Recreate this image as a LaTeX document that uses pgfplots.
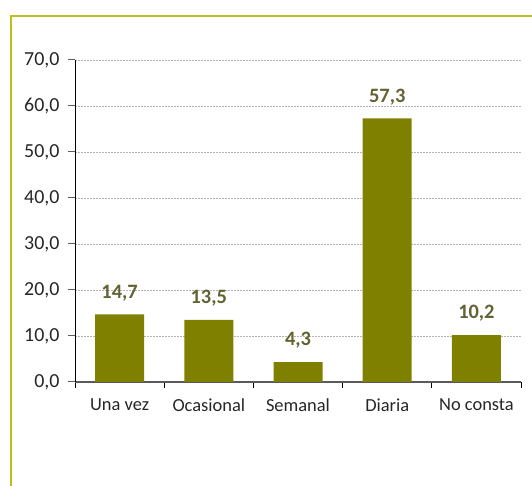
\documentclass[border=0pt]{standalone}
\usepackage{fontspec}
\setmainfont{Carlito}
\usepackage{pgfplots}
\pgfplotsset{compat=1.18}
\definecolor{barolive}{RGB}{128,128,0}
\definecolor{frameolive}{RGB}{190,190,30}
\definecolor{labelolive}{RGB}{98,98,50}
\definecolor{gridgray}{RGB}{180,180,180}
\definecolor{axisgray}{RGB}{90,90,90}

\begin{document}
\begin{tikzpicture}[x=1bp,y=1bp]
\useasboundingbox (0,0) rectangle (532,486);
% frame lines (left and top)
\draw[frameolive, line width=2bp] (11,0) -- (11,470) -- (532,470);

\begin{axis}[
    at={(75bp,104bp)}, anchor=south west,
    scale only axis,
    width=446bp, height=322bp,
    xmin=-0.5, xmax=4.5,
    ymin=0, ymax=70,
    ytick={0,10,...,70},
    xtick={0,1,2,3,4},
    xticklabels={Una vez, Ocasional, Semanal, Diaria, No consta},
    minor xtick={-0.5,0.5,1.5,2.5,3.5,4.5},
    major x tick style={draw=none},
    minor x tick style={black, line width=0.8bp},
    minor tick length=6bp,
    major tick length=7bp,
    tick align=outside,
    ymajorgrids,
    grid style={gridgray, dash pattern=on 2bp off 1bp, line width=0.7bp},
    axis x line*=bottom,
    axis y line*=left,
    x axis line style={axisgray, line width=1.3bp, -},
    y axis line style={black, line width=0.8bp, -},
    y tick style={axisgray, line width=1bp},
    yticklabel style={font=\fontsize{20}{22}\selectfont, color=black!85, xshift=-5bp},
    xticklabel style={font=\fontsize{18.5}{21}\selectfont, color=black!85, yshift=-6bp},
    /pgf/number format/.cd, fixed, fixed zerofill, precision=1, use comma, assume math mode=true,
]
\addplot[
    ybar, bar width=49bp, fill=barolive, draw=none,
    nodes near coords,
    nodes near coords style={font=\fontsize{20.5}{22}\bfseries\selectfont, color=labelolive, anchor=south, yshift=10bp,
      /pgf/number format/.cd, fixed, fixed zerofill, precision=1, use comma, assume math mode=true},
] coordinates {
    (0,14.7)
    (1,13.5)
    (2,4.3)
    (3,57.3)
    (4,10.2)
};
\end{axis}
\end{tikzpicture}
\end{document}
